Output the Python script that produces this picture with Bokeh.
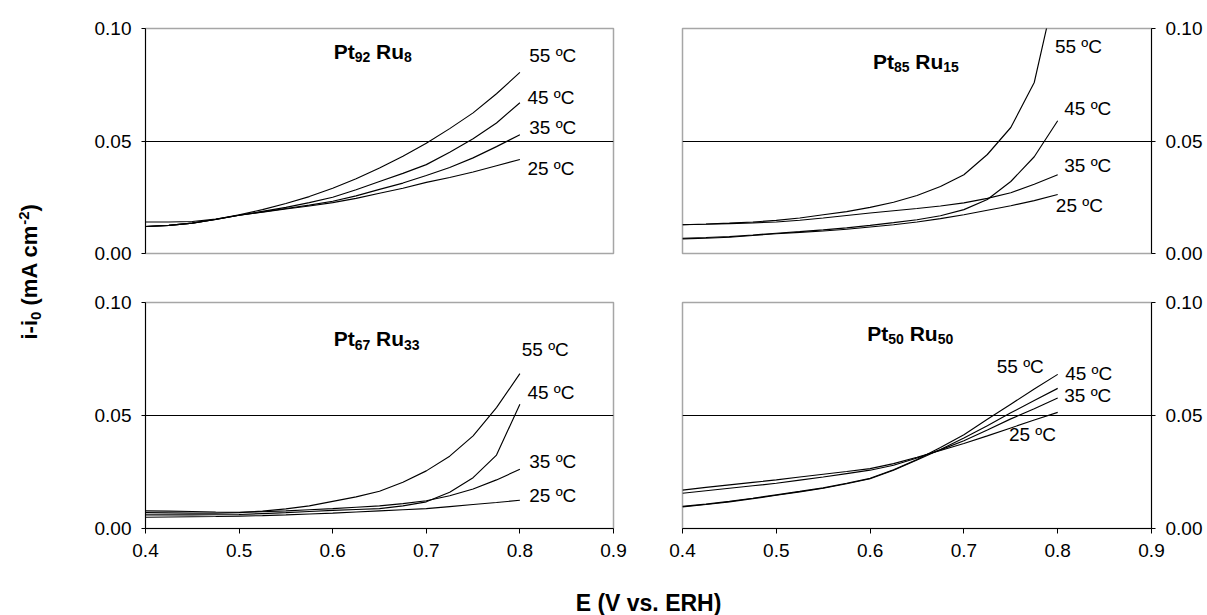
import numpy as np
from bokeh.plotting import figure
from bokeh.models import Range1d, FixedTicker, PrintfTickFormatter, Label
from bokeh.layouts import row, column
from bokeh.embed import file_html
from bokeh.resources import INLINE

# ---------------- data ----------------
E = [0.400, 0.425, 0.450, 0.475, 0.500, 0.525, 0.550, 0.575, 0.600,
     0.625, 0.650, 0.675, 0.700, 0.725, 0.750, 0.775, 0.800]

# Pt92 Ru8
pt92_55 = [0.0120, 0.0125, 0.0135, 0.0152, 0.0172, 0.0195, 0.0222, 0.0253, 0.0290,
           0.0332, 0.0380, 0.0432, 0.0490, 0.0555, 0.0625, 0.0710, 0.0805]
pt92_45 = [0.0120, 0.0125, 0.0135, 0.0151, 0.0170, 0.0187, 0.0205, 0.0226, 0.0250,
           0.0283, 0.0320, 0.0356, 0.0395, 0.0450, 0.0510, 0.0580, 0.0670]
pt92_35 = [0.0120, 0.0125, 0.0135, 0.0151, 0.0170, 0.0185, 0.0200, 0.0215, 0.0232,
           0.0256, 0.0285, 0.0313, 0.0347, 0.0382, 0.0425, 0.0475, 0.0528]
pt92_25 = [0.0140, 0.0140, 0.0142, 0.0153, 0.0170, 0.0184, 0.0198, 0.0211, 0.0226,
           0.0245, 0.0268, 0.0290, 0.0316, 0.0338, 0.0362, 0.0390, 0.0418]

# Pt85 Ru15
pt85_55 = [0.0128, 0.0131, 0.0135, 0.0140, 0.0147, 0.0158, 0.0172, 0.0186, 0.0205,
           0.0228, 0.0258, 0.0298, 0.0350, 0.0440, 0.0560, 0.0760, 0.1220]
pt85_45 = [0.0068, 0.0071, 0.0075, 0.0082, 0.0090, 0.0097, 0.0105, 0.0114, 0.0125,
           0.0137, 0.0150, 0.0168, 0.0195, 0.0240, 0.0320, 0.0430, 0.0590]
pt85_35 = [0.0128, 0.0130, 0.0133, 0.0136, 0.0140, 0.0148, 0.0158, 0.0169, 0.0180,
           0.0190, 0.0200, 0.0211, 0.0225, 0.0245, 0.0270, 0.0308, 0.0350]
pt85_25 = [0.0065, 0.0068, 0.0072, 0.0080, 0.0088, 0.0094, 0.0100, 0.0108, 0.0118,
           0.0128, 0.0140, 0.0155, 0.0172, 0.0192, 0.0212, 0.0235, 0.0262]

# Pt67 Ru33
pt67_55 = [0.0070, 0.0069, 0.0068, 0.0068, 0.0070, 0.0077, 0.0087, 0.0100, 0.0120,
           0.0140, 0.0165, 0.0205, 0.0255, 0.0320, 0.0410, 0.0535, 0.0685]
pt67_45 = [0.0060, 0.0060, 0.0060, 0.0061, 0.0062, 0.0066, 0.0070, 0.0075, 0.0080,
           0.0084, 0.0088, 0.0100, 0.0118, 0.0160, 0.0225, 0.0325, 0.0550]
pt67_35 = [0.0078, 0.0077, 0.0075, 0.0073, 0.0072, 0.0074, 0.0078, 0.0083, 0.0088,
           0.0094, 0.0100, 0.0110, 0.0123, 0.0145, 0.0175, 0.0215, 0.0262]
pt67_25 = [0.0050, 0.0051, 0.0052, 0.0053, 0.0055, 0.0057, 0.0060, 0.0064, 0.0068,
           0.0073, 0.0078, 0.0083, 0.0088, 0.0097, 0.0106, 0.0115, 0.0125]

# Pt50 Ru50
pt50_55 = [0.0098, 0.0108, 0.0120, 0.0134, 0.0149, 0.0164, 0.0180, 0.0200, 0.0222,
           0.0260, 0.0305, 0.0358, 0.0415, 0.0483, 0.0550, 0.0617, 0.0682]
pt50_45 = [0.0096, 0.0106, 0.0118, 0.0132, 0.0147, 0.0162, 0.0178, 0.0198, 0.0220,
           0.0258, 0.0303, 0.0350, 0.0400, 0.0455, 0.0512, 0.0566, 0.0620]
pt50_35 = [0.0156, 0.0167, 0.0178, 0.0189, 0.0200, 0.0214, 0.0228, 0.0243, 0.0258,
           0.0280, 0.0312, 0.0348, 0.0388, 0.0436, 0.0485, 0.0530, 0.0577]
pt50_25 = [0.0170, 0.0182, 0.0193, 0.0204, 0.0215, 0.0228, 0.0240, 0.0252, 0.0265,
           0.0287, 0.0315, 0.0345, 0.0376, 0.0410, 0.0445, 0.0480, 0.0514]

temp_labels = ["55 ºC", "45 ºC", "35 ºC", "25 ºC"]
y_ticks = [0.0, 0.05, 0.10]
x_ticks = [0.4, 0.5, 0.6, 0.7, 0.8, 0.9]

titles = {
    "tl": [("Pt", False), ("92", True), ("Ru", False), ("8", True)],
    "tr": [("Pt", False), ("85", True), ("Ru", False), ("15", True)],
    "bl": [("Pt", False), ("67", True), ("Ru", False), ("33", True)],
    "br": [("Pt", False), ("50", True), ("Ru", False), ("50", True)],
}

# ---------------- layout / style constants ----------------
FONT = "Liberation Sans"
TICK_SIZE = "19px"
TEMP_SIZE = "19px"
BOLD_W = {'P': 0.667, 't': 0.333, ' ': 0.278, 'R': 0.722, 'u': 0.611, 'i': 0.278,
          '-': 0.333, '(': 0.333, ')': 0.333, 'm': 0.889, 'A': 0.722, 'c': 0.556}


def bw(s, size):
    return sum(BOLD_W.get(ch, 0.556) for ch in s) * size


def make_panel(series, side, bottom, width, height, borders, title_pos, title_parts, label_pos):
    l, r, t, b = borders
    p = figure(width=width, height=height,
               x_range=Range1d(0.4, 0.9), y_range=Range1d(0.0, 0.1),
               x_axis_location="below" if bottom else None,
               y_axis_location=side,
               toolbar_location=None, output_backend="svg",
               min_border_left=l, min_border_right=r,
               min_border_top=t, min_border_bottom=b)
    p.background_fill_color = "white"
    p.border_fill_color = "white"
    p.outline_line_color = "#a6a6a6"
    p.outline_line_width = 1.5
    p.xgrid.visible = False
    p.ygrid.ticker = FixedTicker(ticks=[0.05])
    p.ygrid.grid_line_color = "black"
    p.ygrid.grid_line_width = 1

    ya = p.yaxis[0]
    ya.ticker = FixedTicker(ticks=y_ticks)
    ya.formatter = PrintfTickFormatter(format="%.2f")
    ya.major_tick_out = 4
    ya.major_tick_in = 0
    ya.minor_tick_line_color = None
    ya.axis_line_color = "black"
    ya.major_tick_line_color = "black"
    ya.major_label_text_font = FONT
    ya.major_label_text_font_size = TICK_SIZE
    ya.major_label_text_color = "black"
    ya.major_label_standoff = 10

    if bottom:
        xa = p.xaxis[0]
        xa.ticker = FixedTicker(ticks=x_ticks)
        xa.formatter = PrintfTickFormatter(format="%.1f")
        xa.major_tick_out = 5
        xa.major_tick_in = 0
        xa.minor_tick_line_color = None
        xa.axis_line_color = "black"
        xa.major_tick_line_color = "black"
        xa.major_label_text_font = FONT
        xa.major_label_text_font_size = TICK_SIZE
        xa.major_label_text_color = "black"
        xa.major_label_standoff = 10

    for vals in series:
        p.line(E, vals, line_color="black", line_width=1.15)

    for txt, (lx, ly) in zip(temp_labels, label_pos):
        p.add_layout(Label(x=lx, y=ly, text=txt, text_font=FONT, text_font_size=TEMP_SIZE,
                           text_baseline="middle", text_align="left", text_color="black"))

    tx, ty = title_pos
    off = 0.0
    for i, (txt, sub) in enumerate(title_parts):
        size = 14 if sub else 21
        if i > 0 and not sub:
            off += bw(" ", 21)
        p.add_layout(Label(x=tx, y=ty, x_offset=off, y_offset=-6 if sub else 0, text=txt,
                           text_font=FONT, text_font_style="bold", text_font_size=f"{size}px",
                           text_baseline="middle", text_align="left", text_color="black"))
        off += bw(txt, size)
    return p


tl = make_panel([pt92_55, pt92_45, pt92_35, pt92_25], "left", False, 580, 276, (85, 27, 28, 23),
                (0.601, 0.0898), titles["tl"],
                [(0.810, 0.0880), (0.808, 0.0693), (0.810, 0.0560), (0.808, 0.0378)])
tr = make_panel([pt85_55, pt85_45, pt85_35, pt85_25], "right", False, 565, 276, (42, 53, 28, 23),
                (0.603, 0.0855), titles["tr"],
                [(0.797, 0.0921), (0.807, 0.0644), (0.807, 0.0390), (0.798, 0.0213)])
bl = make_panel([pt67_55, pt67_45, pt67_35, pt67_25], "left", True, 580, 299, (85, 27, 23, 47),
                (0.601, 0.0840), titles["bl"],
                [(0.802, 0.0792), (0.808, 0.0603), (0.810, 0.0298), (0.810, 0.0144)])
br = make_panel([pt50_55, pt50_45, pt50_35, pt50_25], "right", True, 565, 299, (42, 53, 26, 44),
                (0.597, 0.0865), titles["br"],
                [(0.735, 0.0716), (0.808, 0.0686), (0.807, 0.0587), (0.748, 0.0415)])


def blank(w, h):
    f = figure(width=w, height=h, x_range=Range1d(0, w), y_range=Range1d(0, h),
               x_axis_location=None, y_axis_location=None,
               toolbar_location=None, output_backend="svg",
               min_border_left=0, min_border_right=0, min_border_top=0, min_border_bottom=0)
    f.outline_line_color = None
    f.xgrid.visible = False
    f.ygrid.visible = False
    f.background_fill_color = "white"
    f.border_fill_color = "white"
    return f


# x axis title
xfig = blank(1145, 40)
xfig.add_layout(Label(x=588, y=13, text="E (V vs. ERH)", text_font=FONT, text_font_style="bold",
                      text_font_size="23px", text_align="center", text_baseline="middle",
                      text_color="black"))

# y axis title (rotated, with sub/superscript)
yfig = blank(60, 615)
ypos = 276.0
xbase = 29.0
for txt, kind, space in [("i-i", "m", 0), ("0", "sub", 0), ("(mA cm", "m", 1),
                         ("-2", "sup", 0), (")", "m", 0)]:
    size = 22 if kind == "m" else 15
    if space:
        ypos += bw(" ", 22)
    xx = xbase + (6 if kind == "sub" else (-6 if kind == "sup" else 0))
    yfig.add_layout(Label(x=xx, y=ypos, text=txt, angle=np.pi / 2, text_font=FONT,
                          text_font_style="bold", text_font_size=f"{size}px",
                          text_align="left", text_baseline="middle", text_color="black"))
    ypos += bw(txt, size)

layout = row(yfig, column(row(tl, tr), row(bl, br), xfig))

open("out.html", "w").write(file_html(layout, INLINE))
